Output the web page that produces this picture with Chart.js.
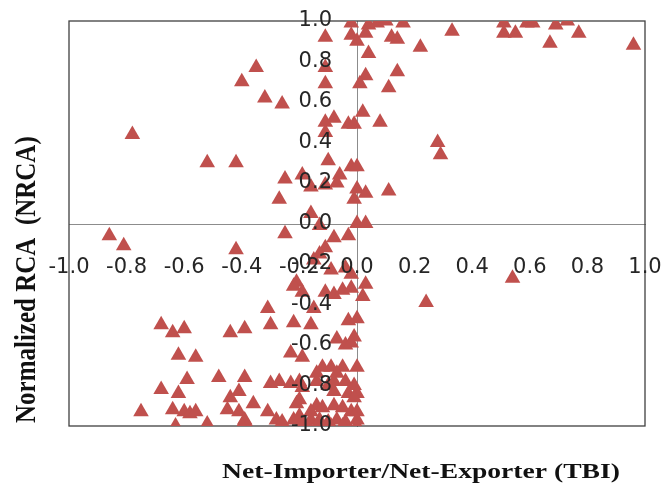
<!DOCTYPE html>
<html>
<head>
<meta charset="utf-8">
<script src="https://cdn.jsdelivr.net/npm/chart.js@4.4.1/dist/chart.umd.min.js"></script>
<style>
  body { margin: 0; background: #fff; }
  canvas { display: block; }
</style>
</head>
<body>
<canvas id="rcaChart" width="664" height="486"></canvas>
<script>
// Net-Importer/Net-Exporter index (x) vs normalized RCA (y), one entry per product
const tbi = [
  -0.11, -0.35, -0.40, -0.32, -0.26, -0.11, -0.11, -0.78, -0.52, -0.42,
  -0.25, -0.19, -0.16, -0.11, -0.27, -0.10, -0.11, -0.08, -0.11, -0.16,
  -0.13, -0.02, -0.02, 0.00, 0.04, 0.03, 0.07, 0.10, 0.16, 0.12,
  0.14, 0.22, 0.33, 0.04, 0.03, 0.01, 0.14, 0.11, 0.02, 0.08,
  -0.03, -0.01, 0.28, 0.29, -0.02, 0.00, -0.06, -0.07, 0.00, 0.03,
  0.11, -0.01, 0.00, 0.03, 0.51, 0.51, 0.55, 0.59, 0.61, 0.67,
  0.69, 0.73, 0.77, 0.96, 0.24, 0.54, -0.08, -0.03, -0.86, -0.81,
  -0.25, -0.42, -0.11, -0.13, -0.15, -0.09, -0.04, -0.02, 0.03, -0.21,
  -0.19, -0.11, -0.08, -0.05, -0.02, 0.02, -0.15, -0.22, -0.16, -0.03,
  0.00, -0.31, -0.68, -0.64, -0.60, -0.44, -0.39, -0.30, -0.62, -0.56,
  -0.23, -0.19, -0.59, -0.48, -0.39, -0.68, -0.62, -0.44, -0.41, -0.36,
  -0.30, -0.27, -0.23, -0.20, -0.14, -0.10, -0.08, -0.75, -0.64, -0.60,
  -0.58, -0.56, -0.63, -0.52, -0.45, -0.41, -0.39, -0.38, -0.40, -0.31,
  -0.28, -0.26, -0.22, -0.20, -0.16, -0.13, -0.10, -0.21, -0.20, -0.14,
  -0.08, -0.07, -0.01, -0.04, -0.02, -0.12, -0.09, -0.05, 0.00, -0.14,
  -0.07, -0.19, -0.04, -0.01, -0.03, 0.00, -0.16, -0.12, -0.05, -0.02,
  0.00, -0.19, -0.07, -0.04, 0.00, -0.17, -0.14, -0.09, -0.05, 0.00,
  -0.08, -0.01, -0.22
];
const nrca = [
  0.92, 0.77, 0.70, 0.62, 0.59, 0.77, 0.69, 0.44, 0.30, 0.30,
  0.22, 0.24, 0.18, 0.19, 0.12, 0.31, 0.50, 0.52, 0.45, 0.05,
  -0.01, 0.99, 0.93, 0.90, 0.98, 0.94, 0.99, 1.00, 0.99, 0.92,
  0.91, 0.87, 0.95, 0.84, 0.73, 0.69, 0.75, 0.67, 0.55, 0.50,
  0.49, 0.49, 0.40, 0.34, 0.28, 0.28, 0.24, 0.20, 0.17, 0.15,
  0.16, 0.12, 0.00, 0.00, 0.99, 0.94, 0.94, 0.99, 0.99, 0.89,
  0.98, 1.00, 0.94, 0.88, -0.39, -0.27, -0.07, -0.06, -0.06, -0.11,
  -0.05, -0.13, -0.12, -0.15, -0.18, -0.23, -0.22, -0.25, -0.30, -0.29,
  -0.34, -0.34, -0.35, -0.33, -0.32, -0.36, -0.42, -0.49, -0.50, -0.48,
  -0.47, -0.42, -0.50, -0.54, -0.52, -0.54, -0.52, -0.50, -0.65, -0.66,
  -0.64, -0.66, -0.77, -0.76, -0.76, -0.82, -0.84, -0.86, -0.83, -0.89,
  -0.79, -0.78, -0.79, -0.78, -0.78, -0.80, -0.78, -0.93, -0.92, -0.93,
  -0.94, -0.93, -1.00, -0.99, -0.92, -0.93, -0.97, -1.00, -1.00, -0.93,
  -0.97, -0.98, -0.97, -0.95, -0.97, -0.97, -0.98, -0.89, -0.87, -0.90,
  -0.90, -0.57, -0.56, -0.60, -0.59, -0.71, -0.71, -0.71, -0.71, -0.74,
  -0.74, -0.81, -0.78, -0.80, -0.84, -0.84, -0.93, -0.91, -0.91, -0.93,
  -0.93, -0.98, -0.97, -0.98, -0.97, -1.00, -1.00, -1.00, -1.00, -1.00,
  -0.83, -0.86, -0.31
];
const xTitle = 'Net-Importer/Net-Exporter (TBI)';
const yTitle = 'Normalized RCA  (NRCA)';

const points = tbi.map((x, i) => ({ x: x, y: nrca[i] }));

// plot frame, y axis moved onto x = 0, axis titles (Excel style)
const framePlugin = {
  id: 'frame',
  afterLayout(chart) {
    // y axis is laid out on the left, then shifted so it crosses at x = 0
    const ys = chart.scales.y;
    const w = ys.right - ys.left;
    const cx = chart.scales.x.getPixelForValue(0);
    ys.right = cx;
    ys.left = cx - w;
  },
  beforeDatasetsDraw(chart) {
    const { ctx, chartArea: a } = chart;
    ctx.save();
    ctx.strokeStyle = '#404040';
    ctx.lineWidth = 1.3;
    ctx.strokeRect(a.left, a.top, a.right - a.left, a.bottom - a.top);
    ctx.restore();
  },
  afterDraw(chart) {
    const ctx = chart.ctx;
    ctx.save();
    ctx.fillStyle = '#111';
    ctx.textBaseline = 'middle';
    ctx.font = 'bold 20px "Liberation Serif"';
    // x title, a bit stretched like the source image
    ctx.save();
    ctx.translate(421, 473);
    ctx.scale(1.38, 1);
    ctx.textAlign = 'center';
    ctx.fillText(xTitle, 0, 0);
    ctx.restore();
    // y title
    ctx.font = 'bold 25px "Liberation Serif"';
    ctx.translate(28, 423);
    ctx.rotate(-Math.PI / 2);
    ctx.scale(1, 1.15);
    ctx.textAlign = 'left';
    ctx.fillText(yTitle, 0, 0);
    ctx.restore();
  }
};

const tickFont = { family: '"DejaVu Sans"', size: 21 };

new Chart(document.getElementById('rcaChart').getContext('2d'), {
  type: 'scatter',
  data: {
    datasets: [{
      data: points,
      pointStyle: 'triangle',
      pointRadius: 9,
      pointHoverRadius: 9,
      backgroundColor: '#C0504D',
      borderColor: '#C0504D',
      borderWidth: 0
    }]
  },
  options: {
    responsive: false,
    animation: false,
    devicePixelRatio: 1,
    layout: { padding: { left: 0, top: 21, right: 19, bottom: 60 } },
    plugins: { legend: { display: false }, tooltip: { enabled: false } },
    scales: {
      x: {
        type: 'linear',
        position: 'center',
        min: -1, max: 1,
        grid: { display: false, drawTicks: true, tickLength: 31 },
        border: { display: true, color: '#8c8c8c', width: 1 },
        ticks: {
          stepSize: 0.2, autoSkip: false, maxRotation: 0, padding: 0, z: 1,
          color: '#262626', font: tickFont,
          callback: v => v.toFixed(1)
        }
      },
      y: {
        type: 'linear',
        position: 'left',
        min: -1, max: 1,
        afterFit: s => { s.width = 69; },
        grid: { display: false, drawTicks: true, tickLength: 25 },
        border: { display: true, color: '#8c8c8c', width: 1 },
        ticks: {
          stepSize: 0.2, autoSkip: false, padding: 0, z: 1,
          color: '#262626', font: tickFont,
          callback: v => v.toFixed(1)
        }
      }
    }
  },
  plugins: [framePlugin]
});
</script>
</body>
</html>
